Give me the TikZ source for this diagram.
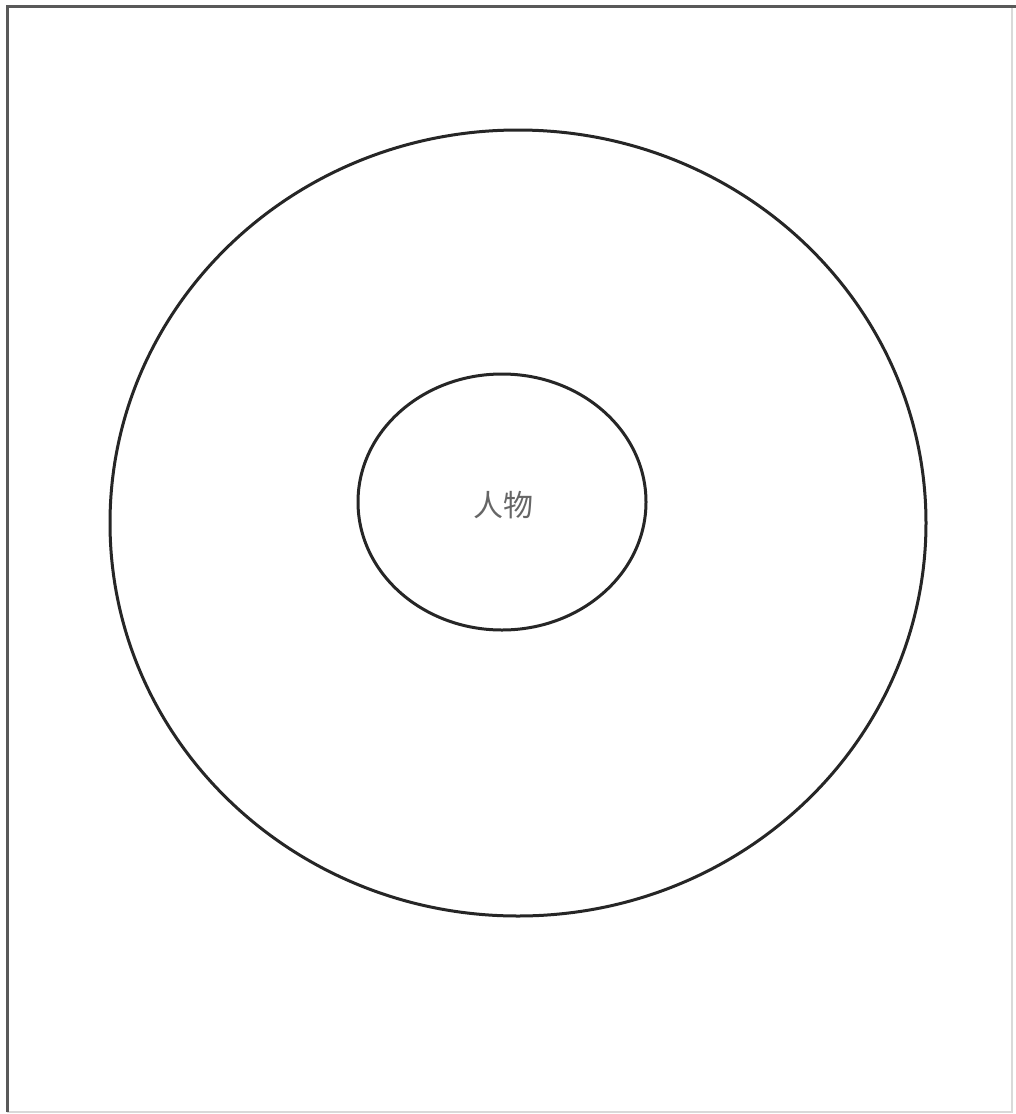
\documentclass[tikz,border=0pt]{standalone}
\usepackage{fontspec}
\usetikzlibrary{shapes.geometric}
\newfontfamily\cjk{Noto Sans CJK SC}
\begin{document}
\begin{tikzpicture}[x=1pt,y=-1pt,
  ring/.style={draw=black!85,line width=3pt},
  frameline/.style={draw=black!65,line width=3pt},
  lightline/.style={draw=black!15,line width=2pt}]
\useasboundingbox (0,0) rectangle (1016,1114);
\fill[white] (0,0) rectangle (1016,1114);
\draw[lightline] (1012,6) -- (1012,1112) -- (7,1112);
\draw[frameline] (7,1112) -- (7,6) -- (1016,6);
\node[ring,ellipse,minimum width=816pt,minimum height=786pt,inner sep=0pt] (outer) at (518,523) {};
\node[ring,ellipse,minimum width=288pt,minimum height=256pt,inner sep=0pt] (inner) at (502,502) {};
\node[text=black!60,font=\cjk\fontsize{30}{34}\selectfont] (label) at (503,505) {人物};
\end{tikzpicture}
\end{document}
